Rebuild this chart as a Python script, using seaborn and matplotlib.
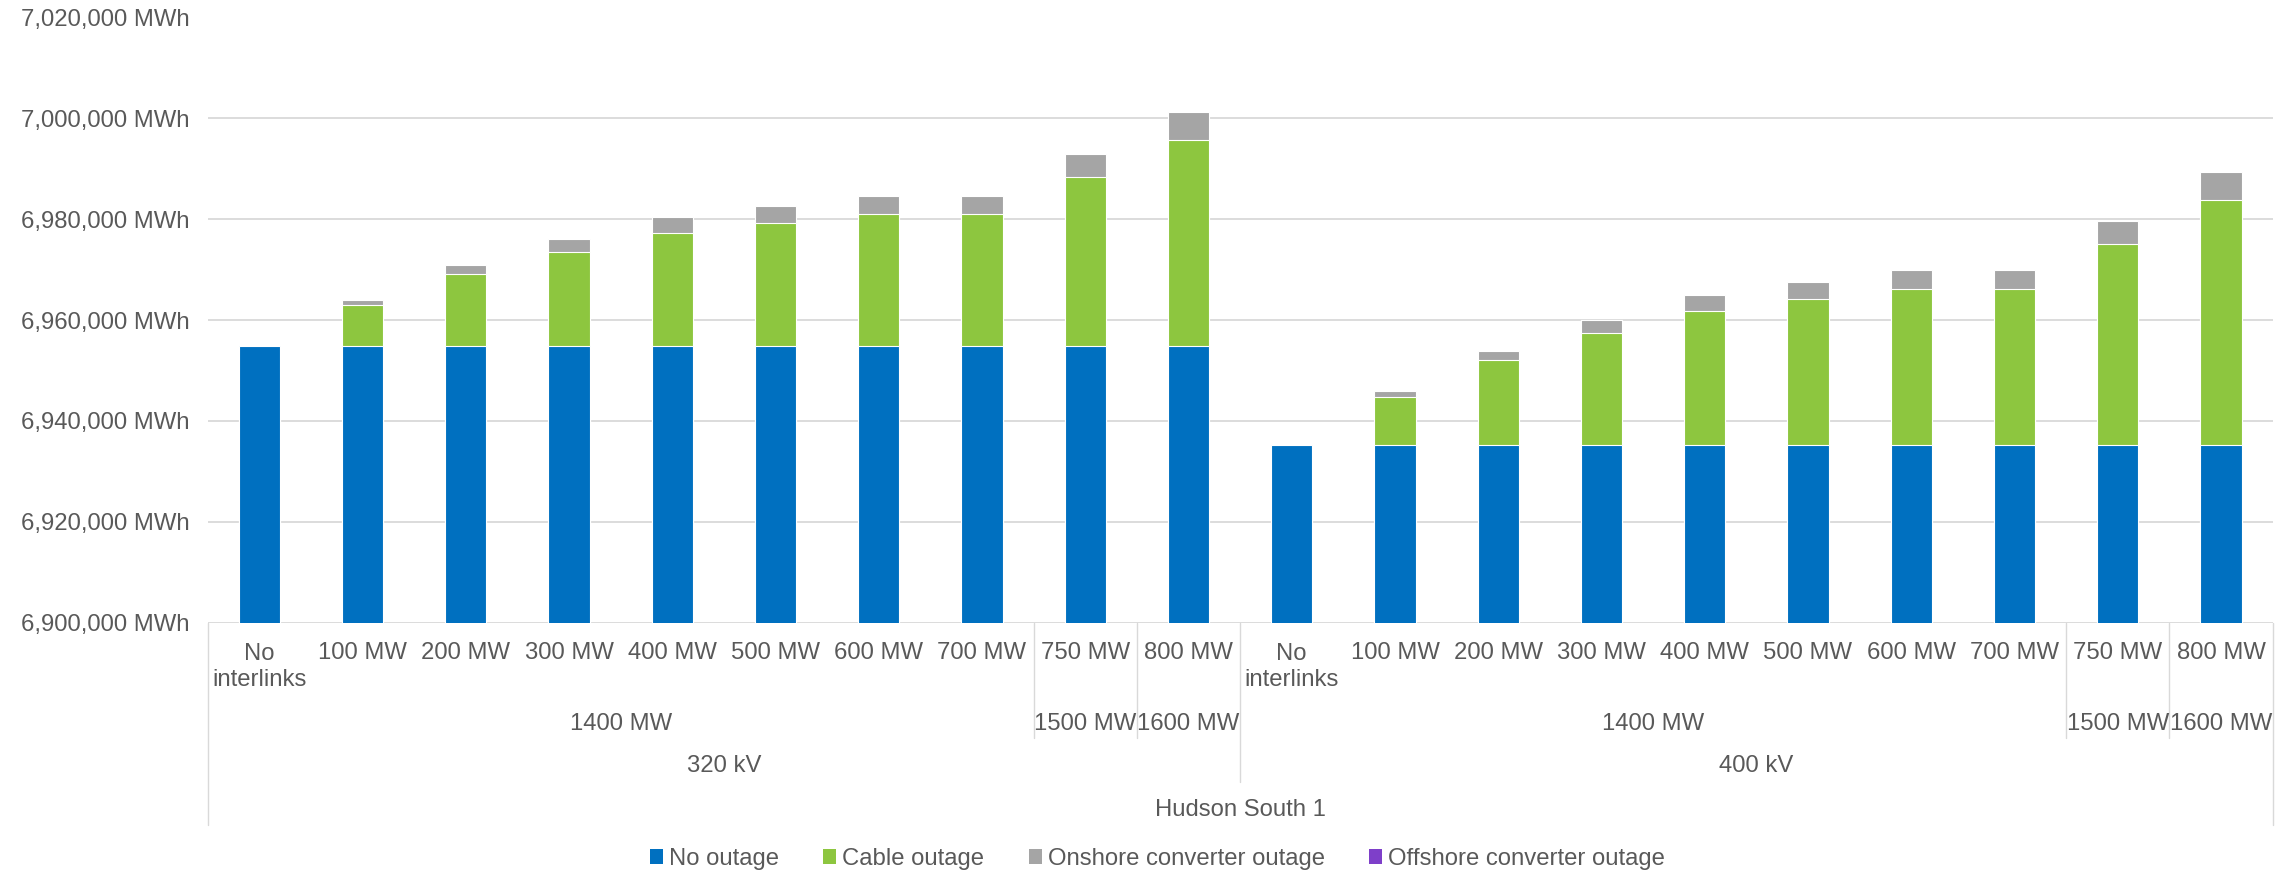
import numpy as np
import pandas as pd
import matplotlib
matplotlib.use("Agg")
import matplotlib.pyplot as plt
import matplotlib.transforms as mtransforms
from matplotlib.lines import Line2D
from matplotlib.patches import Patch
import seaborn as sns

# ---- data -------------------------------------------------------------
bar_labels = ["No\ninterlinks", "100 MW", "200 MW", "300 MW", "400 MW", "500 MW",
              "600 MW", "700 MW", "750 MW", "800 MW",
              "No\ninterlinks", "100 MW", "200 MW", "300 MW", "400 MW", "500 MW",
              "600 MW", "700 MW", "750 MW", "800 MW"]
capacity_labels = ["1400 MW"] * 8 + ["1500 MW", "1600 MW"] + ["1400 MW"] * 8 + ["1500 MW", "1600 MW"]
voltage_labels = ["320 kV"] * 10 + ["400 kV"] * 10
project_labels = ["Hudson South 1"] * 20

no_outage = [6954800, 6954800, 6954800, 6954800, 6954800, 6954800, 6954800, 6954800, 6954800, 6954800,
             6935300, 6935300, 6935300, 6935300, 6935300, 6935300, 6935300, 6935300, 6935300, 6935300]
cable_outage = [0, 8110, 14260, 18750, 22560, 24540, 26190, 26190, 33660, 40970,
                0, 9530, 16730, 22060, 26550, 28930, 30915, 30915, 39740, 48470]
onshore_outage = [0, 1120, 1850, 2450, 3040, 3300, 3570, 3570, 4565, 5550,
                  0, 1120, 1920, 2580, 3040, 3370, 3635, 3635, 4560, 5550]
offshore_outage = [0] * 20

series_names = ["No outage", "Cable outage", "Onshore converter outage", "Offshore converter outage"]
series_colors = ["#0070C0", "#8DC63F", "#A5A5A5", "#7E3FC9"]

# ---- style ------------------------------------------------------------
sns.set_theme(style="white")
plt.rcParams["font.family"] = ["Liberation Sans", "DejaVu Sans"]
TXT = "#595959"
GRID = "#D9D9D9"
FS = 17.2

W, H = 2292, 874
fig = plt.figure(figsize=(W / 100, H / 100), dpi=100)
left, right, top, bottom = 207.6, 2272.6, 17.5, 622.7
ax = fig.add_axes([left / W, 1 - bottom / H, (right - left) / W, (bottom - top) / H])

df = pd.DataFrame({
    "slot": np.arange(20),
    "no": no_outage,
    "cable": cable_outage,
    "onshore": onshore_outage,
    "offshore": offshore_outage,
})
df["lvl1"] = df["no"]
df["lvl2"] = df["lvl1"] + df["cable"]
df["lvl3"] = df["lvl2"] + df["onshore"]
df["lvl4"] = df["lvl3"] + df["offshore"]

# stacked bars: draw cumulative totals from the top layer down
for col, color in zip(["lvl4", "lvl3", "lvl2", "lvl1"], series_colors[::-1]):
    sns.barplot(data=df, x="slot", y=col, color=color, saturation=1, width=0.4,
                edgecolor="white", linewidth=0.8, ax=ax, zorder=2)

ax.set_xlim(-0.5, 19.5)
ax.set_ylim(6900000, 7020000)
yt = np.arange(6900000, 7020001, 20000)
ax.set_yticks(yt)
ax.set_yticklabels([f"{v:,.0f} MWh" for v in yt], color=TXT, fontsize=FS)
ax.tick_params(axis="y", length=0, pad=13)
ax.set_xticks([])
ax.set_xlabel("")
ax.set_ylabel("")
for s in ax.spines.values():
    s.set_visible(False)
ax.set_axisbelow(True)
ax.yaxis.grid(True, color=GRID, linewidth=1.3)

# ---- multi-level category axis ----------------------------------------
tr = mtransforms.blended_transform_factory(ax.transData, fig.transFigure)

def fy(py):
    return 1 - py / H

def runs(labels):
    out = []
    start = 0
    for i in range(1, len(labels) + 1):
        if i == len(labels) or labels[i] != labels[start]:
            out.append((start, i - 1, labels[start]))
            start = i
    return out

for i, lab in enumerate(bar_labels):
    if "\n" in lab:
        fig.text(i, fy(667), lab, transform=tr, ha="center", va="center",
                 fontsize=FS, color=TXT, linespacing=1.23, multialignment="center")
    else:
        fig.text(i, fy(653), lab, transform=tr, ha="center", va="center",
                 fontsize=FS, color=TXT)

row_y = [724, 766.5, 810]
line_end = [738, 782, 825]
for lvl, (labels, ty) in enumerate(zip([capacity_labels, voltage_labels, project_labels], row_y)):
    for s, e, lab in runs(labels):
        fig.text((s + e) / 2, fy(ty), lab, transform=tr, ha="center", va="center",
                 fontsize=FS, color=TXT)

# group boundaries, each reaching down through its own level
bounds = {}
for lvl, labels in enumerate([capacity_labels, voltage_labels, project_labels]):
    for s, e, lab in runs(labels):
        for b in (s - 0.5, e + 0.5):
            bounds[b] = max(bounds.get(b, 0), lvl)
for b, lvl in bounds.items():
    fig.add_artist(Line2D([b, b], [fy(bottom), fy(line_end[lvl])], transform=tr,
                          color=GRID, linewidth=1.0))

# ---- legend -----------------------------------------------------------
handles = [Patch(facecolor=c, edgecolor="none") for c in series_colors]
leg = fig.legend(handles, series_names, loc="center", bbox_to_anchor=(0.505, fy(859)),
                 ncol=4, frameon=False, fontsize=FS, handlelength=0.55, handleheight=0.55,
                 handletextpad=0.25, columnspacing=1.85, labelcolor=TXT)

fig.savefig("out.png", dpi=100, facecolor="white")
